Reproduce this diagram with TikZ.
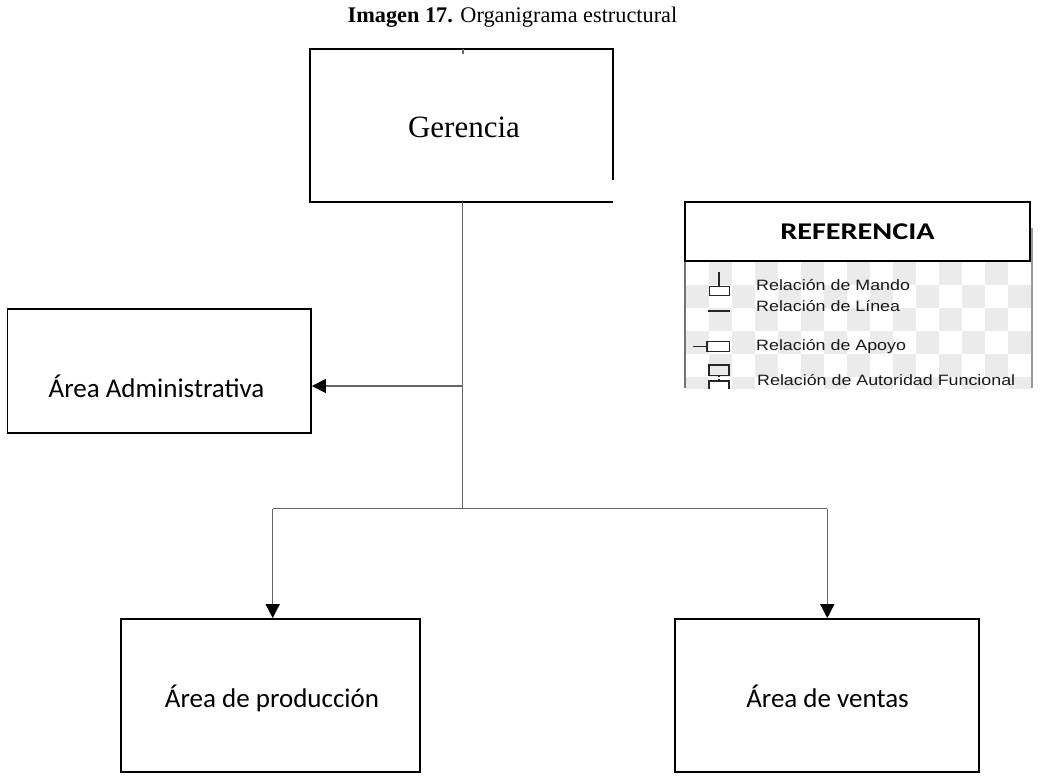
\documentclass[tikz,border=0pt]{standalone}
\usepackage{fontspec}
\setmainfont{Liberation Serif}
\newfontfamily\boxfont{Carlito}
\newfontfamily\legfont{Liberation Sans}
\usetikzlibrary{arrows.meta,calc}
\begin{document}
\begin{tikzpicture}[x=1pt,y=-1pt,
  unitbox/.style={draw=black,line width=1.8pt,inner sep=0pt},
  boxtext/.style={font=\boxfont\fontsize{27}{32}\selectfont,anchor=base,inner sep=0pt},
  conn/.style={draw=black!60,line width=1.3pt},
  arr/.style={conn,-{Triangle[length=14pt,width=14pt,black]}},
  legtext/.style={font=\legfont\fontsize{15}{18}\selectfont,anchor=base west,inner sep=0pt,text=black!90},
  legsym/.style={draw=black!85,line width=1.6pt}]
\useasboundingbox (0,0) rectangle (1041,776);

% caption
\node[font=\fontsize{22.3}{26}\selectfont,anchor=base] (title) at (512.5,23)
  {\textbf{Imagen 17.} Organigrama estructural};

% top unit: right side left open near the bottom corner
\node[minimum width=303pt,minimum height=152.5pt,inner sep=0pt] (ger) at (461.5,125.5) {};
\node[font=\fontsize{31}{36}\selectfont,anchor=base,inner sep=0pt] (gertxt) at (464,137) {Gerencia};
\draw[black,line width=1.8pt] ($(ger.south east)+(0,-22)$) -- (ger.north east)
  -- (ger.north west) -- (ger.south west) -- (ger.south east);
\draw[conn] ($(ger.north)+(1.5,0)$) -- ++(0,5);

% subordinate units
\node[unitbox,minimum width=303.5pt,minimum height=123.7pt] (adm) at (159.25,371.15) {};
\node[boxtext] (admtxt) at (156.5,397) {Área Administrativa};
\node[unitbox,minimum width=299.3pt,minimum height=153pt] (prod) at (270.35,695.5) {};
\node[boxtext] (prodtxt) at (272,707) {Área de producción};
\node[unitbox,minimum width=304.3pt,minimum height=153pt] (vent) at (826.85,695.5) {};
\node[boxtext] (venttxt) at (827.5,707) {Área de ventas};

% connectors
\coordinate (j) at (462.3,508.7);
\coordinate (ja) at (462.3,386);
\coordinate (pa) at (272.7,508.7);
\coordinate (va) at (827.3,508.7);
\draw[conn] (ger.south -| j) -- (j);
\draw[arr] (ja) -- (ja -| adm.east);
\draw[conn] (pa) -- (va);
\draw[arr] (pa) -- (pa |- prod.north);
\draw[arr] (va) -- (va |- vent.north);

% legend panel
\begin{scope}
  \clip (685,261) rectangle (1032,388);
  \foreach \i in {0,...,15} {
    \foreach \k in {0,...,6} {
      \pgfmathtruncatemacro{\chk}{mod(\i+\k,2)}
      \ifnum\chk=1
        \fill[black!8] (686+\i*23,262+\k*23) rectangle ++(23,23);
      \fi
    }
  }
\end{scope}
\draw[black!55,line width=1.2pt] (685,261) -- (685,388);
\draw[black!40,line width=1.2pt] (1032,228) -- (1032,388);
\node[draw=black,line width=2.4pt,fill=white,minimum width=345pt,minimum height=59.5pt,inner sep=0pt,
  font=\boxfont\bfseries\fontsize{24}{28}\selectfont] (ref) at (857.5,231.5)
  {\scalebox{1.26}[1]{REFERENCIA}};

% legend symbols
\coordinate (m1) at (719,272);
\draw[legsym] (m1) -- ++(0,14);
\draw[legsym] (709.5,286.5) rectangle (729.5,295.5);
\coordinate (l1) at (708,311);
\draw[legsym] (l1) -- ++(22,0);
\coordinate (a1) at (693,346.5);
\draw[legsym] (a1) -- ++(14,0);
\draw[legsym] (707,341.5) rectangle (729.5,351.5);
\begin{scope}
  \clip (690,355) rectangle (735,388);
  \draw[legsym] (709,365) rectangle (729,375.5);
  \draw[legsym,dotted] (719,375.5) -- (719,381);
  \draw[legsym] (709,381) rectangle (729,392);
\end{scope}

% legend texts
\node[legtext] (t1) at (756,290) {\scalebox{1.19}[1]{Relación de Mando}};
\node[legtext] (t2) at (756,311.5) {\scalebox{1.19}[1]{Relación de Línea}};
\node[legtext] (t3) at (756,350) {\scalebox{1.19}[1]{Relación de Apoyo}};
\node[legtext] (t4) at (757,385.5) {\scalebox{1.19}[1]{Relación de Autoridad Funcional}};
\end{tikzpicture}
\end{document}
